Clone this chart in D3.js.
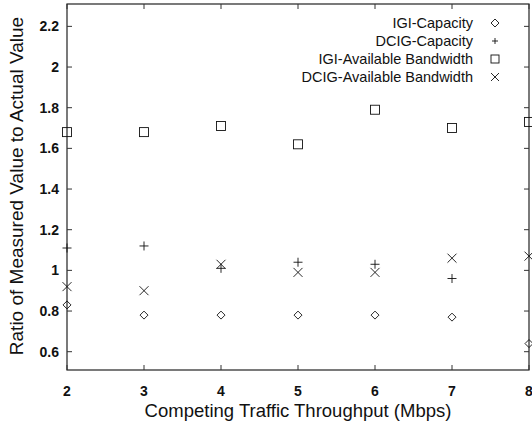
<!DOCTYPE html>
<html>
<head>
<meta charset="utf-8">
<script src="https://cdn.jsdelivr.net/npm/d3@7"></script>
<style>
  body { margin: 0; background: #fff; }
  svg { display: block; font-family: "Liberation Sans", Arial, sans-serif; }
</style>
</head>
<body>
<svg id="chart" width="532" height="432"></svg>
<script>
// Competing traffic throughput (Mbps)
const throughput = [2, 3, 4, 5, 6, 7, 8];

// ratio of measured to actual value
const igiCapacity = [0.83, 0.78, 0.78, 0.78, 0.78, 0.77, 0.64];
const dcigCapacity = [1.11, 1.12, 1.01, 1.04, 1.03, 0.96, null];
const igiAvailBw = [1.68, 1.68, 1.71, 1.62, 1.79, 1.70, 1.73];
const dcigAvailBw = [0.92, 0.90, 1.03, 0.99, 0.99, 1.06, 1.07];

const xTicks = [2, 3, 4, 5, 6, 7, 8];
const yTicks = [0.6, 0.8, 1, 1.2, 1.4, 1.6, 1.8, 2, 2.2];

const seriesNames = ["IGI-Capacity", "DCIG-Capacity", "IGI-Available Bandwidth", "DCIG-Available Bandwidth"];
const seriesValues = [igiCapacity, dcigCapacity, igiAvailBw, dcigAvailBw];
const seriesSymbols = ["diamond", "plus", "square", "cross"];

const margin = { top: 4, right: 3, bottom: 62, left: 67 };
const width = 532, height = 432;

const svg = d3.select("#chart");

const x = d3.scaleLinear()
  .domain([2, 8])
  .range([margin.left, width - margin.right]);

const y = d3.scaleLinear()
  .domain([0.51, 2.31])
  .range([height - margin.bottom, margin.top]);

// marker drawing
function drawMarker(g, kind, cx, cy, r) {
  const s = g.append("g")
    .attr("transform", `translate(${cx},${cy})`)
    .style("fill", "none")
    .style("stroke", "#111")
    .style("stroke-width", 0.9);
  if (kind === "diamond") {
    s.append("path").attr("d", `M0,${-r}L${r},0L0,${r}L${-r},0Z`);
  } else if (kind === "plus") {
    s.append("path").attr("d", `M${-r},0H${r}M0,${-r}V${r}`);
  } else if (kind === "square") {
    s.append("rect").attr("x", -r).attr("y", -r).attr("width", 2 * r).attr("height", 2 * r);
  } else if (kind === "cross") {
    s.append("path").attr("d", `M${-r},${-r}L${r},${r}M${r},${-r}L${-r},${r}`);
  }
}

// frame
const x0 = x.range()[0], x1 = x.range()[1];
const y0 = y.range()[0], y1 = y.range()[1];

svg.append("rect")
  .attr("x", x0).attr("y", y1)
  .attr("width", x1 - x0).attr("height", y0 - y1)
  .style("fill", "none")
  .style("stroke", "#222")
  .style("stroke-width", 1.2);

// y axis ticks and labels (mirrored on right)
yTicks.forEach(t => {
  const ty = y(t);
  svg.append("line").attr("x1", x0).attr("x2", x0 + 5).attr("y1", ty).attr("y2", ty).style("stroke", "#333");
  svg.append("line").attr("x1", x1).attr("x2", x1 - 5).attr("y1", ty).attr("y2", ty).style("stroke", "#333");
  svg.append("text")
    .attr("x", x0 - 8).attr("y", ty)
    .attr("dy", "0.35em")
    .style("text-anchor", "end")
    .style("font-size", "14px")
    .style("font-weight", "bold")
    .style("fill", "#111")
    .text(t);
});

// x axis ticks and labels
xTicks.forEach(t => {
  const tx = x(t);
  svg.append("line").attr("x1", tx).attr("x2", tx).attr("y1", y0).attr("y2", y0 - 5).style("stroke", "#333");
  svg.append("line").attr("x1", tx).attr("x2", tx).attr("y1", y1).attr("y2", y1 + 5).style("stroke", "#333");
  svg.append("text")
    .attr("x", tx).attr("y", y0 + 26)
    .style("text-anchor", "middle")
    .style("font-size", "14px")
    .style("font-weight", "bold")
    .style("fill", "#111")
    .text(t);
});

// axis titles
svg.append("text")
  .attr("x", (x0 + x1) / 2).attr("y", 417)
  .style("text-anchor", "middle")
  .style("font-size", "18.5px")
  .style("fill", "#111")
  .text("Competing Traffic Throughput (Mbps)");

svg.append("text")
  .attr("transform", `translate(23, 186) rotate(-90)`)
  .style("text-anchor", "middle")
  .style("font-size", "19px")
  .style("fill", "#111")
  .text("Ratio of Measured Value to Actual Value");

// points
const pts = svg.append("g");
seriesValues.forEach((vals, si) => {
  vals.forEach((v, i) => {
    if (v == null) return;
    drawMarker(pts, seriesSymbols[si], x(throughput[i]), y(v), seriesSymbols[si] === "diamond" ? 4 : 4.5);
  });
});

// legend
const legend = svg.append("g");
seriesNames.forEach((name, i) => {
  const ly = 23 + i * 18;
  legend.append("text")
    .attr("x", 473).attr("y", ly)
    .attr("dy", "0.35em")
    .style("text-anchor", "end")
    .style("font-size", "14.5px")
    .style("fill", "#111")
    .text(name);
  drawMarker(legend, seriesSymbols[i], 495, ly, seriesSymbols[i] === "plus" ? 3 : 4);
});
</script>
</body>
</html>
